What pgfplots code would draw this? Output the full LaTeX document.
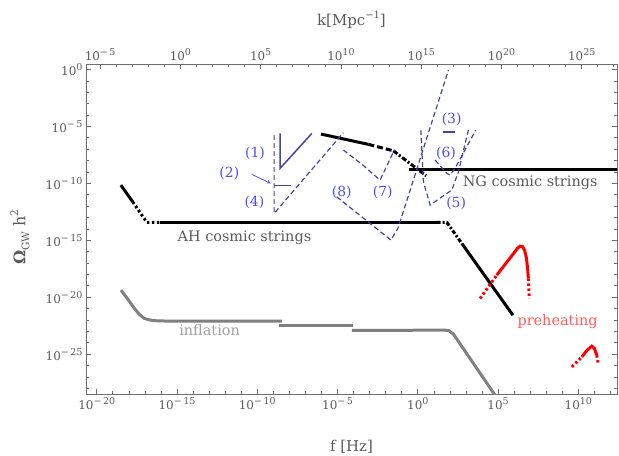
\documentclass[border=0pt]{standalone}
\usepackage{pgfplots}
\pgfplotsset{compat=1.18}
\usepackage{fontspec}
\setmainfont{DejaVu Serif}
\definecolor{axgray}{HTML}{6E6E6E}
\definecolor{labgray}{HTML}{5A5A5A}
\definecolor{txtgray}{HTML}{5A5A5A}
\definecolor{inflgray}{HTML}{808080}
\definecolor{infltxt}{HTML}{A0A0A0}
\definecolor{blueline}{HTML}{45459E}
\definecolor{bluetxt}{HTML}{4D4DF5}
\definecolor{pretxt}{HTML}{FF5C5C}
\newcommand\tl[1]{10\raisebox{0.42em}{\fontsize{9.5}{9.5}\selectfont #1}}
\begin{document}
\begin{tikzpicture}
\begin{axis}[
  scale only axis, width=531bp, height=329.7bp,
  xmin=-20.67, xmax=12.41, ymin=-28.5, ymax=0.46,
  axis line style={axgray, line width=0.7bp},
  tick style={axgray, line width=0.7bp},
  tick align=inside, major tick length=5bp, minor tick length=3bp,
  xtick pos=left, ytick pos=both, yticklabel pos=left,
  xtick={-20,-15,-10,-5,0,5,10},
  xticklabels={\tl{−\,20},\tl{−\,15},\tl{−\,10},\tl{−\,5},\tl{0},\tl{5},\tl{10}},
  minor xtick={-20,-19,...,12},
  ytick={-25,-20,-15,-10,-5,0},
  yticklabels={\tl{−\,25},\tl{−\,20},\tl{−\,15},\tl{−\,10},\tl{−\,5},\tl{0}},
  minor ytick={-28,-27,...,0},
  every tick label/.append style={font=\fontsize{12}{12}\selectfont, text=labgray},
  xlabel={f [Hz]},
  xlabel style={at={(axis description cs:0.5,0)}, anchor=center, yshift=-52.7bp, font=\fontsize{15}{15}\selectfont, text=labgray},
  clip=true,
]
\coordinate (BL) at (rel axis cs:0,0);
\coordinate (TR) at (rel axis cs:1,1);
\coordinate (YL) at (rel axis cs:0,0.5);
% inflation (gray)
\addplot[inflgray, line width=3bp] coordinates {(-18.49,-19.38) (-18.1,-20.1) (-17.7,-20.9) (-17.35,-21.5) (-17.05,-21.85) (-16.7,-22.0) (-16.26,-22.07) (-15.5,-22.1) (-8.47,-22.1)};
\addplot[inflgray, line width=3bp] coordinates {(-8.62,-22.48) (-4.01,-22.48)};
\addplot[inflgray, line width=3bp] coordinates {(-4.11,-22.92) (1.70,-22.89) (1.95,-22.95) (2.22,-23.24) (5.10,-29.2)};
% AH cosmic strings
\addplot[black, line width=3bp] coordinates {(-18.5,-10.15) (-17.76,-11.62)};
\addplot[black, line width=3bp, dash pattern=on 2.5bp off 2.5bp] coordinates {(-17.76,-11.62) (-16.88,-13.43) (-16.05,-13.43)};
\addplot[black, line width=3bp] coordinates {(-16.05,-13.43) (1.18,-13.43)};
\addplot[black, line width=3bp, dash pattern=on 4bp off 2bp on 2bp off 2bp] coordinates {(1.18,-13.43) (1.81,-13.43) (2.74,-15.27)};
\addplot[black, line width=3bp] coordinates {(2.74,-15.27) (5.92,-21.57)};
% middle black line
\addplot[black, line width=3bp] coordinates {(-6.03,-5.67) (-3.08,-6.57)};
\addplot[black, line width=3bp, dash pattern=on 6bp off 3bp] coordinates {(-3.08,-6.57) (-1.52,-7.14)};
\addplot[black, line width=3bp, dash pattern=on 5bp off 2bp on 2bp off 2bp] coordinates {(-1.52,-7.14) (0.52,-9.33)};
% NG cosmic strings
\addplot[black, line width=3bp] coordinates {(-0.54,-8.79) (12.6,-8.79)};
% blue sensitivity curves
\addplot[blueline, line width=1.2bp, dash pattern=on 5bp off 3bp] coordinates {(-8.95,-5.76) (-8.95,-12.64) (-4.64,-5.55)};
\addplot[blueline, line width=1.5bp] coordinates {(-8.58,-5.61) (-8.58,-8.68) (-6.60,-5.61)};
\addplot[blueline, line width=1.5bp] coordinates {(-8.95,-10.18) (-7.91,-10.18)};
\addplot[blueline, line width=1.2bp, dash pattern=on 5bp off 3bp] coordinates {(-4.64,-7.07) (-3.5,-8.3) (-2.35,-9.71) (-1.46,-7.07)};
\addplot[blueline, line width=1.2bp, dash pattern=on 5bp off 3bp] coordinates {(-5.05,-11.18) (-1.68,-14.98) (-1.23,-13.93) (1.91,-0.04)};
\addplot[blueline, line width=1.2bp, dash pattern=on 5bp off 3bp] coordinates {(0.19,-5.32) (0.35,-9.86) (0.77,-11.91) (1.50,-11.18) (2.12,-10.59) (2.53,-8.98) (3.15,-5.32)};
\addplot[blueline, line width=1.2bp, dash pattern=on 5bp off 3bp] coordinates {(1.08,-7.95) (1.81,-9.12) (2.01,-9.27) (2.32,-8.68) (3.61,-5.32)};
\addplot[blueline, line width=1.5bp] coordinates {(1.60,-5.47) (2.32,-5.47)};
\addplot[bluetxt, line width=0.8bp, -stealth] coordinates {(-10.34,-9.21) (-9.16,-10.0)};
% preheating (red)
\addplot[red, line width=3bp, dash pattern=on 2.5bp off 2.5bp] coordinates {(3.88,-20.11) (4.92,-18.06)};
\addplot[red, line width=3bp] coordinates {(4.92,-18.06) (5.5,-17.0) (6.0,-16.1) (6.2,-15.72) (6.37,-15.51) (6.52,-15.55) (6.65,-15.85) (6.76,-16.5) (6.83,-17.33) (6.89,-18.35)};
\addplot[red, line width=3bp, dash pattern=on 2.5bp off 2.5bp] coordinates {(6.89,-18.35) (6.95,-20.11)};
\addplot[red, line width=3bp, dash pattern=on 2.5bp off 2.5bp] coordinates {(9.60,-26.12) (10.22,-25.24)};
\addplot[red, line width=3bp] coordinates {(10.22,-25.24) (10.55,-24.65) (10.84,-24.30) (11.0,-24.5) (11.15,-25.09)};
\addplot[red, line width=3bp, dash pattern=on 2.5bp off 2.5bp] coordinates {(11.15,-25.09) (11.25,-25.88)};
% labels
\begin{scope}[every node/.style={font=\fontsize{14}{14}\selectfont, text=bluetxt, inner sep=0pt}]
\node at (axis cs:-10.14,-7.36) {(1)};
\node at (axis cs:-11.74,-9.12) {(2)};
\node at (axis cs:-10.18,-11.70) {(4)};
\node at (axis cs:-4.74,-10.74) {(8)};
\node at (axis cs:-2.18,-10.74) {(7)};
\node at (axis cs:2.11,-4.41) {(3)};
\node at (axis cs:1.76,-7.36) {(6)};
\node at (axis cs:2.39,-11.76) {(5)};
\end{scope}
\node[font=\fontsize{14.5}{14.5}\selectfont, text=txtgray, inner sep=0pt] at (axis cs:-10.80,-14.81) {AH cosmic strings};
\node[font=\fontsize{14.5}{14.5}\selectfont, text=txtgray, inner sep=0pt] at (axis cs:7.0,-9.95) {NG cosmic strings};
\node[font=\fontsize{14.5}{14.5}\selectfont, text=infltxt, inner sep=0pt] at (axis cs:-12.97,-22.89) {inflation};
\node[font=\fontsize{14.5}{14.5}\selectfont, text=pretxt, inner sep=0pt] at (axis cs:8.71,-22.1) {preheating};
\end{axis}
\begin{axis}[
  scale only axis, width=531bp, height=329.7bp,
  xmin=-5.88, xmax=27.20, ymin=0, ymax=1,
  axis x line*=top, axis y line=none,
  axis line style={axgray, line width=0.7bp},
  tick style={axgray, line width=0.7bp},
  tick align=inside, major tick length=5bp, minor tick length=3bp,
  xtick={-5,0,5,10,15,20,25},
  xticklabels={\tl{−\,5},\tl{0},\tl{5},\tl{10},\tl{15},\tl{20},\tl{25}},
  minor xtick={-5,-4,...,27},
  every tick label/.append style={font=\fontsize{12}{12}\selectfont, text=labgray},
  xlabel={k[Mpc\raisebox{0.45em}{\fontsize{10}{10}\selectfont −1}]},
  xlabel style={at={(axis description cs:0.5,1)}, anchor=center, yshift=44.3bp, font=\fontsize{15}{15}\selectfont, text=labgray},
]
\end{axis}
\node[rotate=90, anchor=center, font=\fontsize{16}{16}\selectfont, text=labgray] at ([xshift=-66bp,yshift=-8bp]YL) {{\bfseries Ω}\raisebox{-0.25em}{\fontsize{10.5}{10.5}\selectfont GW} h\raisebox{0.45em}{\fontsize{10.5}{10.5}\selectfont 2}};
\pgfresetboundingbox
\path ([shift={(-86bp,-62bp)}]BL) rectangle ([shift={(2bp,64.3bp)}]TR);
\end{tikzpicture}
\end{document}
